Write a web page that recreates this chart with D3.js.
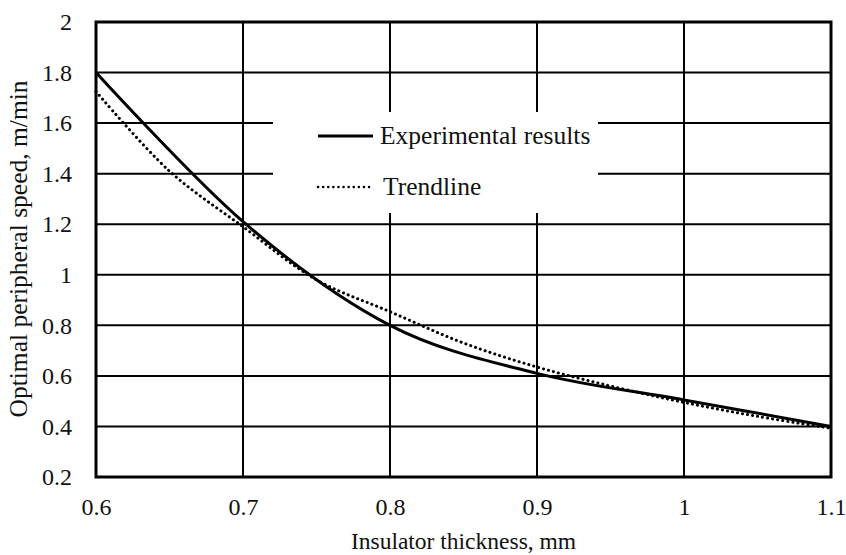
<!DOCTYPE html>
<html>
<head>
<meta charset="utf-8">
<script src="https://cdn.jsdelivr.net/npm/d3@7"></script>
<style>
  body { margin: 0; background: #fff; }
  svg { display: block; font-family: "Liberation Serif", "Times New Roman", serif; }
</style>
</head>
<body>
<div id="chart"></div>
<script>
// insulator thickness (mm)
var thickness = [0.6, 0.7, 0.8, 0.9, 1.0, 1.1];
// measured optimal peripheral speed (m/min)
var experimental = [1.8, 1.21, 0.8, 0.61, 0.505, 0.4];
// trendline
var trendX = [0.6, 0.65, 0.7, 0.75, 0.8, 0.85, 0.9, 0.95, 1.0, 1.05, 1.1];
var trendY = [1.725, 1.41, 1.19, 0.98, 0.854, 0.73, 0.635, 0.56, 0.495, 0.44, 0.393];
var xTicks = [0.6, 0.7, 0.8, 0.9, 1, 1.1];
var yTicks = [0.2, 0.4, 0.6, 0.8, 1, 1.2, 1.4, 1.6, 1.8, 2];

var serif = '"Liberation Serif", "Times New Roman", serif';
var W = 846, H = 555;
var margin = { left: 96, right: 15, top: 22, bottom: 78 };
var w = W - margin.left - margin.right;
var h = H - margin.top - margin.bottom;

var svg = d3.select('#chart')
  .append('svg')
  .attr('width', W)
  .attr('height', H);

var g = svg.append('g')
  .attr('transform', 'translate(' + margin.left + ',' + margin.top + ')');

var x = d3.scaleLinear().domain([0.6, 1.1]).range([0, w]);
var y = d3.scaleLinear().domain([0.2, 2]).range([h, 0]);

// grid
g.append('g')
  .selectAll('line')
  .data(yTicks)
  .enter()
  .append('line')
  .attr('x1', 0).attr('x2', w)
  .attr('y1', function(d) { return y(d); })
  .attr('y2', function(d) { return y(d); })
  .attr('stroke', '#000')
  .attr('stroke-width', 2);

g.append('g')
  .selectAll('line')
  .data(xTicks)
  .enter()
  .append('line')
  .attr('y1', 0).attr('y2', h)
  .attr('x1', function(d) { return x(d); })
  .attr('x2', function(d) { return x(d); })
  .attr('stroke', '#000')
  .attr('stroke-width', 2);

// frame
g.append('rect')
  .attr('width', w)
  .attr('height', h)
  .attr('fill', 'none')
  .attr('stroke', '#000')
  .attr('stroke-width', 3);

// axes (labels only)
function styleAxis(a) {
  a.select('.domain').remove();
  a.attr('font-family', serif).attr('font-size', 24);
  a.selectAll('.tick text').attr('fill', '#111');
}

var xAxis = d3.axisBottom(x).tickValues(xTicks).tickSize(0).tickPadding(21)
  .tickFormat(d3.format('~g'));
g.append('g')
  .attr('transform', 'translate(0,' + h + ')')
  .call(xAxis)
  .call(styleAxis);

var yAxis = d3.axisLeft(y).tickValues(yTicks).tickSize(0).tickPadding(24)
  .tickFormat(d3.format('~g'));
g.append('g')
  .call(yAxis)
  .call(styleAxis);

// legend box hides the grid behind it
g.append('rect')
  .attr('x', 177).attr('y', 90)
  .attr('width', 325).attr('height', 101)
  .attr('fill', '#fff');

// series
var expLine = d3.line()
  .x(function(d, i) { return x(thickness[i]); })
  .y(function(d) { return y(d); })
  .curve(d3.curveCatmullRom.alpha(0));

g.append('path')
  .datum(experimental)
  .attr('d', expLine)
  .attr('fill', 'none')
  .attr('stroke', '#000')
  .attr('stroke-width', 3);

var trendLine = d3.line()
  .x(function(d, i) { return x(trendX[i]); })
  .y(function(d) { return y(d); })
  .curve(d3.curveCatmullRom.alpha(0.5));

g.append('path')
  .datum(trendY)
  .attr('d', trendLine)
  .attr('fill', 'none')
  .attr('stroke', '#000')
  .attr('stroke-width', 3)
  .attr('stroke-dasharray', '0.1 5')
  .attr('stroke-linecap', 'round');

// legend
var legend = g.append('g');
var items = [
  { label: 'Experimental results', dash: null, y: 114 },
  { label: 'Trendline', dash: '0.1 5', y: 165 }
];
items.forEach(function(it) {
  legend.append('line')
    .attr('x1', 222).attr('x2', 277)
    .attr('y1', it.y).attr('y2', it.y)
    .attr('stroke', '#000')
    .attr('stroke-width', it.dash ? 2.5 : 3)
    .attr('stroke-linecap', it.dash ? 'round' : 'butt')
    .attr('stroke-dasharray', it.dash);
  legend.append('text')
    .attr('x', it.label === 'Trendline' ? 287 : 284)
    .attr('y', it.y + 8)
    .attr('font-size', 25.5)
    .attr('fill', '#111')
    .text(it.label);
});

// axis titles
svg.append('text')
  .attr('x', margin.left + w / 2)
  .attr('y', 549)
  .attr('text-anchor', 'middle')
  .attr('font-size', 23.5)
  .attr('fill', '#111')
  .text('Insulator thickness, mm');

svg.append('text')
  .attr('transform', 'translate(27,' + 249 + ') rotate(-90)')
  .attr('text-anchor', 'middle')
  .attr('font-size', 25.5)
  .attr('fill', '#111')
  .text('Optimal peripheral speed, m/min');
</script>
</body>
</html>
